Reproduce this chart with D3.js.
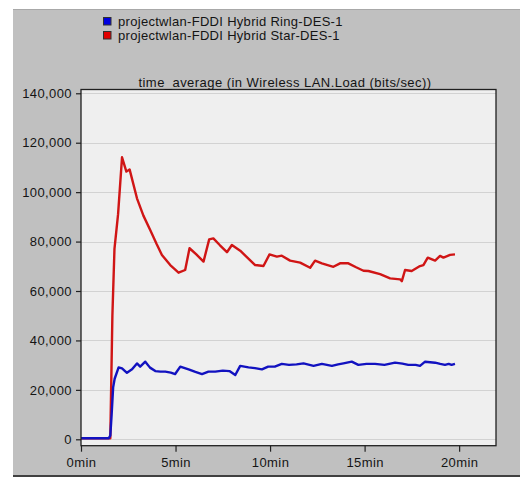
<!DOCTYPE html>
<html><head><meta charset="utf-8">
<script src="https://cdn.jsdelivr.net/npm/d3@7"></script>
<style>
html,body{margin:0;padding:0;background:#fff;}
svg{display:block;}
text{font-family:"Liberation Sans",Arial,sans-serif;fill:#141414;}
</style></head>
<body><svg id="c" width="520" height="477"></svg>
<script>
const seriesNames = ["projectwlan-FDDI Hybrid Ring-DES-1", "projectwlan-FDDI Hybrid Star-DES-1"];
const seriesColors = ["#1212c0", "#d01515"];
const legendColors = ["#0000e0", "#e00000"];
const title = "time_average (in Wireless LAN.Load (bits/sec))";
const yTicks = [0, 20000, 40000, 60000, 80000, 100000, 120000, 140000];
const xTicks = [0, 5, 10, 15, 20];

// minutes
const ringT = [0,1.46,1.55,1.62,1.7,1.78,1.99,2.17,2.43,2.7,2.96,3.13,3.4,3.65,3.93,4.2,4.46,4.75,4.98,5.25,5.69,6.05,6.4,6.74,7.1,7.5,7.85,8.16,8.42,8.86,9.2,9.57,9.9,10.25,10.62,11.0,11.4,11.77,12.3,12.74,13.27,13.6,13.88,14.32,14.67,15.1,15.55,16.05,16.61,17.0,17.31,17.7,17.93,18.2,18.73,19.0,19.25,19.45,19.6,19.78];
const ringV = [400,400,1500,10000,21000,24500,29100,28700,26900,28300,30700,29400,31400,29000,27600,27400,27400,27000,26400,29400,28300,27300,26400,27400,27400,27800,27600,26000,29700,29100,28800,28300,29400,29400,30500,30100,30300,30700,29700,30500,29700,30300,30700,31400,30100,30500,30500,30100,31000,30600,30100,30100,29700,31400,31000,30500,30100,30500,30100,30500];

const starT = [0,1.55,1.66,1.77,1.96,2.17,2.4,2.57,2.96,3.3,3.66,4.0,4.28,4.72,5.16,5.51,5.74,6.1,6.48,6.78,7.0,7.35,7.72,7.98,8.42,8.8,9.21,9.65,9.97,10.36,10.62,11.06,11.59,12.12,12.38,12.74,13.35,13.7,14.14,14.55,14.94,15.2,15.82,16.35,16.88,16.97,17.14,17.49,17.93,18.11,18.34,18.73,18.99,19.17,19.52,19.78];
const starV = [400,400,50000,77000,91000,114100,108300,109200,97500,90500,84700,79000,74600,70500,67400,68500,77300,74800,71900,80900,81300,78500,75700,78600,76300,73500,70500,70100,74800,73900,74300,72300,71500,69400,72300,71200,69800,71200,71200,69600,68200,68100,66800,65100,64700,64000,68500,68100,70100,70500,73500,72300,74200,73500,74600,74800];

const svg = d3.select("#c");
const W = 520, H = 477;
const plot = {left: 81, right: 496, top: 89.5, bottom: 445.7};

// panel
svg.append("rect").attr("x",13).attr("y",9).attr("width",W-13).attr("height",466).attr("fill","#c0c0c0");
svg.append("line").attr("x1",13).attr("x2",W).attr("y1",9.5).attr("y2",9.5).attr("stroke","#a8a8a8");
svg.append("rect").attr("x",13).attr("y",475).attr("width",W-13).attr("height",2).attr("fill","#404040");

const x = d3.scaleLinear().domain([0, 21.95]).range([plot.left, plot.right]);
const y = d3.scaleLinear().domain([-2590, 141530]).range([plot.bottom, plot.top]);

svg.append("rect").attr("x",plot.left).attr("y",plot.top)
  .attr("width",plot.right-plot.left).attr("height",plot.bottom-plot.top).attr("fill","#efefef");

// gridlines
svg.append("g").selectAll("line").data(yTicks).join("line")
  .attr("x1",plot.left).attr("x2",plot.right)
  .attr("y1",d=>Math.round(y(d))+0.5).attr("y2",d=>Math.round(y(d))+0.5)
  .attr("stroke","#d2d2d2").attr("stroke-width",1.2);

const line = d3.line().x(d=>x(d[0])).y(d=>y(d[1]));
const star = starT.map((t,i)=>[t,starV[i]]);
const ring = ringT.map((t,i)=>[t,ringV[i]]);
svg.append("path").datum(star).attr("d",line).attr("fill","none")
  .attr("stroke",seriesColors[1]).attr("stroke-width",2.4).attr("stroke-linejoin","round");
svg.append("path").datum(ring).attr("d",line).attr("fill","none")
  .attr("stroke",seriesColors[0]).attr("stroke-width",2.4).attr("stroke-linejoin","round");

// border
svg.append("rect").attr("x",plot.left).attr("y",plot.top)
  .attr("width",plot.right-plot.left).attr("height",plot.bottom-plot.top)
  .attr("fill","none").attr("stroke","#202020").attr("stroke-width",1.3);

// axes
const ya = svg.append("g").attr("transform",`translate(${plot.left},0)`)
  .call(d3.axisLeft(y).tickValues(yTicks).tickFormat(d3.format(",")).tickSize(5).tickPadding(4));
const xa = svg.append("g").attr("transform",`translate(0,${plot.bottom})`)
  .call(d3.axisBottom(x).tickValues(xTicks).tickFormat(d=>d+"min").tickSize(6).tickPadding(6));
[ya,xa].forEach(g=>{
  g.select(".domain").remove();
  g.selectAll(".tick line").attr("stroke","#202020").attr("stroke-width",1.2);
  g.selectAll("text").attr("font-size",13).attr("letter-spacing",0.4)
    .attr("font-family",'"Liberation Sans",Arial,sans-serif').attr("fill","#141414");
});

// title
svg.append("text").attr("x",285).attr("y",86.5).attr("text-anchor","middle")
  .attr("font-size",13).attr("letter-spacing",0.45).text(title);

// legend
const lg = svg.append("g");
seriesNames.forEach((n,i)=>{
  const yy = 17 + i*14;
  lg.append("rect").attr("x",103.5).attr("y",yy+0.5).attr("width",7.5).attr("height",7.5)
    .attr("fill",legendColors[i]).attr("stroke","#303030").attr("stroke-width",1);
  lg.append("text").attr("x",118).attr("y",yy+9).attr("font-size",13).attr("letter-spacing",0.3).text(n);
});
</script></body></html>
